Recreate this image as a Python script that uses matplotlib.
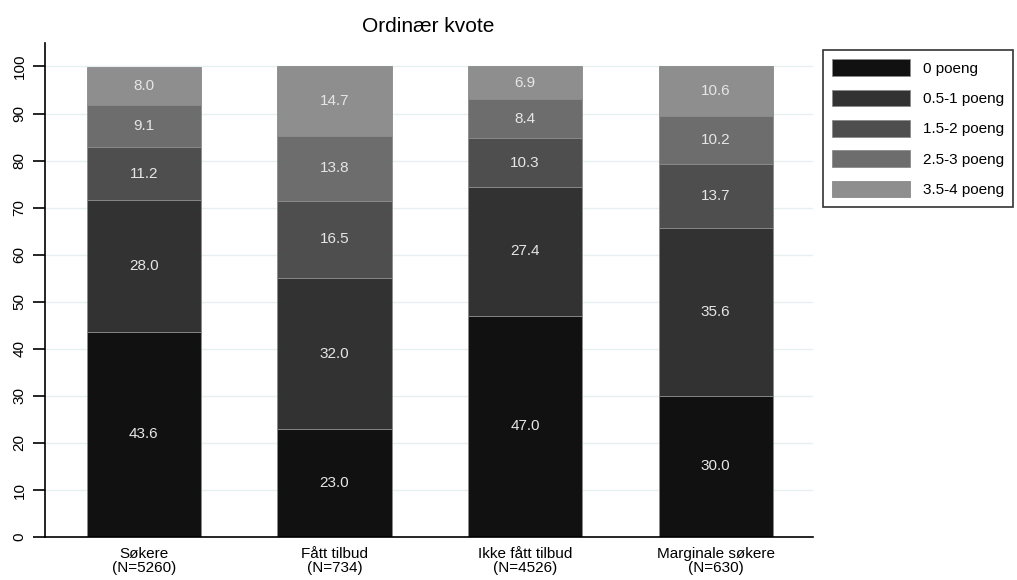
import numpy as np
import matplotlib.pyplot as plt

plt.rcParams['font.family'] = ['Liberation Sans', 'DejaVu Sans']

groups = ["Søkere\n(N=5260)", "Fått tilbud\n(N=734)", "Ikke fått tilbud\n(N=4526)", "Marginale søkere\n(N=630)"]
categories = ["0 poeng", "0.5-1 poeng", "1.5-2 poeng", "2.5-3 poeng", "3.5-4 poeng"]
p0 = [43.6, 23.0, 47.0, 30.0]
p05_1 = [28.0, 32.0, 27.4, 35.6]
p15_2 = [11.2, 16.5, 10.3, 13.7]
p25_3 = [9.1, 13.8, 8.4, 10.2]
p35_4 = [8.0, 14.7, 6.9, 10.6]
series = [p0, p05_1, p15_2, p25_3, p35_4]
colors = ["#111111", "#323232", "#4e4e4e", "#6d6d6d", "#8e8e8e"]

fig = plt.figure(figsize=(10.17, 5.8), dpi=100)
ax = fig.add_axes([0.044, 0.074, 0.755, 0.852])

x = np.arange(len(groups))
bottom = np.zeros(len(groups))
handles = []
for vals, col, lab in zip(series, colors, categories):
    vals = np.array(vals)
    b = ax.bar(x, vals, width=0.6, bottom=bottom, color=col, edgecolor="#8a8a8a",
               linewidth=0.6, label=lab, zorder=2)
    handles.append(b)
    for xi, v, bt in zip(x, vals, bottom):
        ax.text(xi, bt + v / 2, f"{v:.1f}", ha="center", va="center",
                color="#e6e6e6", fontsize=11, zorder=3)
    bottom += vals

ax.set_xlim(-0.519, 3.508)
ax.set_ylim(0, 105)
ax.set_yticks(range(0, 101, 10))
ax.tick_params(axis="y", labelrotation=90, length=9, width=1.2, labelsize=11, pad=4)
for t in ax.get_yticklabels():
    t.set_va("center")
ax.set_xticks(x)
ax.set_xticklabels(groups, fontsize=11, linespacing=1.0)
ax.tick_params(axis="x", length=0, pad=7)
ax.yaxis.grid(True, color="#e6f0f2", linewidth=1, zorder=0)
ax.set_axisbelow(True)
for s in ["top", "right"]:
    ax.spines[s].set_visible(False)
ax.spines["left"].set_linewidth(1.2)
ax.spines["bottom"].set_linewidth(1.2)

ax.set_title("Ordinær kvote", fontsize=15, pad=8)

leg = fig.legend(handles=handles, loc="upper left", bbox_to_anchor=(823 / 1017, 1 - 50 / 580),
                 fontsize=11, frameon=True, fancybox=False, edgecolor="black",
                 handlelength=5.1, handleheight=1.3, labelspacing=0.9,
                 borderpad=0.6, handletextpad=0.85, borderaxespad=0)
leg.get_frame().set_linewidth(1.2)

fig.savefig("out.png", dpi=100)
